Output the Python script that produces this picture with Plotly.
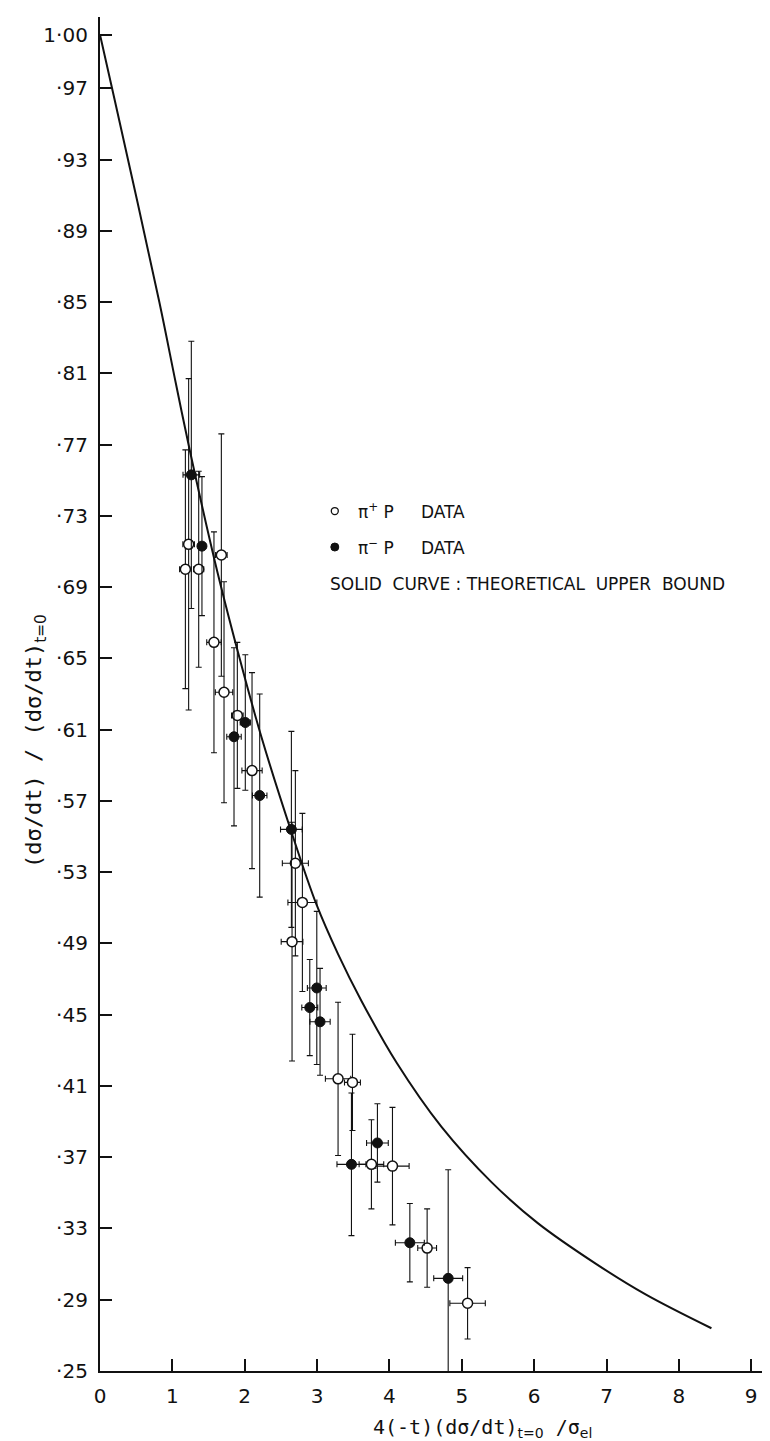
import plotly.graph_objects as go

# ---- data ----
# pi+ p data (open circles)
pip_x = [1.18, 1.225, 1.364, 1.575, 1.677, 1.714, 1.898, 2.101, 2.654, 2.70, 2.797, 3.29, 3.489, 3.751, 4.042, 4.521, 5.08]
pip_y = [0.700, 0.714, 0.700, 0.659, 0.708, 0.631, 0.618, 0.587, 0.491, 0.535, 0.513, 0.414, 0.412, 0.366, 0.365, 0.319, 0.288]
pip_dy = [0.067, 0.093, 0.055, 0.062, 0.068, 0.062, 0.041, 0.055, 0.067, 0.052, 0.050, 0.043, 0.027, 0.025, 0.033, 0.022, 0.020]
pip_dx = [0.08, 0.08, 0.07, 0.10, 0.08, 0.12, 0.08, 0.14, 0.15, 0.18, 0.20, 0.175, 0.11, 0.17, 0.23, 0.13, 0.245]

# pi- p data (filled circles)
pim_x = [1.262, 1.409, 1.852, 2.008, 2.207, 2.645, 2.899, 2.996, 3.041, 3.475, 3.834, 4.282, 4.812]
pim_y = [0.753, 0.713, 0.606, 0.614, 0.573, 0.554, 0.454, 0.465, 0.446, 0.366, 0.378, 0.322, 0.302]
pim_dy = [0.075, 0.039, 0.050, 0.038, 0.057, 0.055, 0.027, 0.043, 0.030, 0.040, 0.022, 0.022, 0.061]
pim_dx = [0.115, 0.05, 0.10, 0.07, 0.10, 0.15, 0.11, 0.13, 0.14, 0.20, 0.15, 0.20, 0.20]

# theoretical upper bound (solid curve)
curve_x = [0, 0.2, 0.82, 1.05, 1.24, 1.59, 1.91, 2.23, 2.65, 2.99, 3.29, 3.61, 4.1, 4.72, 5.41, 6.05, 6.86, 7.54, 8.45]
curve_y = [1.0, 0.964, 0.850, 0.804, 0.767, 0.704, 0.653, 0.606, 0.552, 0.512, 0.484, 0.458, 0.423, 0.387, 0.356, 0.333, 0.310, 0.293, 0.274]

x_ticks = [0, 1, 2, 3, 4, 5, 6, 7, 8, 9]
y_ticks = [0.25, 0.29, 0.33, 0.37, 0.41, 0.45, 0.49, 0.53, 0.57, 0.61, 0.65,
           0.69, 0.73, 0.77, 0.81, 0.85, 0.89, 0.93, 0.97, 1.00]
y_ticktext = ["·25", "·29", "·33", "·37", "·41", "·45", "·49", "·53", "·57", "·61", "·65",
              "·69", "·73", "·77", "·81", "·85", "·89", "·93", "·97", "1·00"]

FONT = "DejaVu Sans"
TITLE_FONT = "DejaVu Sans Mono, DejaVu Sans"
BLACK = "#111111"

fig = go.Figure()

fig.add_trace(go.Scatter(
    x=curve_x, y=curve_y, mode="lines",
    line=dict(color=BLACK, width=2, shape="spline", smoothing=1.0),
    showlegend=False, hoverinfo="skip"))

err_style = dict(type="data", symmetric=True, color=BLACK, thickness=1.1, width=3)

fig.add_trace(go.Scatter(
    x=pip_x, y=pip_y, mode="markers", name="π+ p data",
    marker=dict(symbol="circle", size=10, color="white", line=dict(color=BLACK, width=1.5)),
    error_y=dict(array=pip_dy, **err_style),
    error_x=dict(array=pip_dx, **err_style),
    showlegend=False))

fig.add_trace(go.Scatter(
    x=pim_x, y=pim_y, mode="markers", name="π- p data",
    marker=dict(symbol="circle", size=10, color=BLACK, line=dict(color=BLACK, width=1)),
    error_y=dict(array=pim_dy, **err_style),
    error_x=dict(array=pim_dx, **err_style),
    showlegend=False))

# legend-like key text
NB = "\u00a0"
SUB = "<sub><span style='font-family:DejaVu Sans'>{}</span></sub>"
leg_font = dict(family=FONT, size=17, color=BLACK)
annotations = [
    dict(x=3.54, y=0.7327, xref="x", yref="y", xanchor="left", yanchor="middle",
         text="π<sup>+</sup>" + NB + "P" + NB * 5 + "DATA", showarrow=False, font=leg_font),
    dict(x=3.54, y=0.7125, xref="x", yref="y", xanchor="left", yanchor="middle",
         text="π<sup>−</sup>" + NB + "P" + NB * 5 + "DATA", showarrow=False, font=leg_font),
    dict(x=3.155, y=0.692, xref="x", yref="y", xanchor="left", yanchor="middle",
         text="SOLID" + NB * 2 + "CURVE" + NB + ":" + NB + "THEORETICAL" + NB * 2 + "UPPER" + NB * 2 + "BOUND",
         showarrow=False, font=leg_font),
    # axis titles
    dict(x=5.28, y=-0.042, xref="x", yref="paper", xanchor="center", yanchor="middle",
         text="4(-t)(dσ/dt)" + SUB.format("t=0") + NB + "/σ" + SUB.format("el"), showarrow=False,
         font=dict(family=TITLE_FONT, size=20, color=BLACK)),
    dict(x=-0.095, y=0.465, xref="paper", yref="paper", xanchor="center", yanchor="middle",
         text="(dσ/dt)" + NB + "/" + NB + "(dσ/dt)" + SUB.format("t=0"), textangle=-90, showarrow=False,
         font=dict(family=TITLE_FONT, size=22, color=BLACK)),
]

shapes = [
    dict(type="circle", xref="x", yref="y", xsizemode="pixel", ysizemode="pixel",
         xanchor=3.245, yanchor=0.7327, x0=-3.5, x1=3.5, y0=-3.5, y1=3.5,
         line=dict(color=BLACK, width=1.3), fillcolor="white"),
    dict(type="circle", xref="x", yref="y", xsizemode="pixel", ysizemode="pixel",
         xanchor=3.245, yanchor=0.7125, x0=-4, x1=4, y0=-4, y1=4,
         line=dict(color=BLACK, width=1), fillcolor=BLACK),
]

fig.update_layout(
    width=770, height=1441,
    margin=dict(l=92, r=0, t=9, b=78),
    paper_bgcolor="white", plot_bgcolor="white",
    font=dict(family=FONT, color=BLACK),
    annotations=annotations, shapes=shapes,
    showlegend=False,
)

fig.update_xaxes(
    range=[0, 9.37], tickvals=x_ticks, ticktext=[str(v) for v in x_ticks],
    ticks="inside", ticklen=12, tickwidth=1.5, tickcolor=BLACK,
    showline=True, linewidth=2.2, linecolor=BLACK, showgrid=False, zeroline=False,
    tickfont=dict(family=FONT, size=20, color=BLACK), ticklabelstandoff=6)

fig.update_yaxes(
    range=[0.25, 1.01], tickvals=y_ticks, ticktext=y_ticktext,
    ticks="inside", ticklen=12, tickwidth=1.5, tickcolor=BLACK,
    showline=True, linewidth=2.2, linecolor=BLACK, showgrid=False, zeroline=False,
    tickfont=dict(family=FONT, size=20, color=BLACK), ticklabelstandoff=6)

fig.write_html("out.html")
